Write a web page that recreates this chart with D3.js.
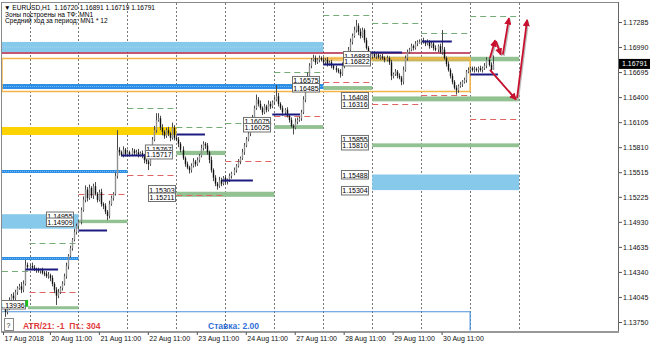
<!DOCTYPE html>
<html>
<head>
<meta charset="utf-8">
<script src="https://cdn.jsdelivr.net/npm/d3@7"></script>
<style>
  body { margin: 0; background: #fff; }
  svg { display: block; font-family: "Liberation Sans", Arial, sans-serif; }
</style>
</head>
<body>
<div id="chart"></div>
<script>
const width = 650;
const height = 345;
const plot = { left: 2, top: 3, right: 618, bottom: 331 };
const pip = 0.0001;

/* EURUSD H1 candles, 17 Aug 2018 12:00 .. 31 Aug 2018 12:00 (open = previous close) */
const firstOpen = 1.1394;
const closes = [
  1.1398, 1.1387, 1.1391, 1.1401, 1.1406, 1.1403, 1.1410, 1.1415, 1.1417, 1.1413,
  1.1420, 1.1442, 1.1440, 1.1441, 1.1439, 1.1437, 1.1436, 1.1435, 1.1436, 1.1433,
  1.1432, 1.1429, 1.1430, 1.1427, 1.1420, 1.1413, 1.1406, 1.1410, 1.1415, 1.1420,
  1.1429, 1.1441, 1.1453, 1.1462, 1.1472, 1.1481, 1.1488, 1.1493, 1.1507, 1.1519,
  1.1531, 1.1521, 1.1533, 1.1524, 1.1535, 1.1526, 1.1519, 1.1528, 1.1514, 1.1512,
  1.1505, 1.1500, 1.1514, 1.1521, 1.1526, 1.1547, 1.1578, 1.1575, 1.1572, 1.1578,
  1.1573, 1.1575, 1.1573, 1.1577, 1.1574, 1.1575, 1.1572, 1.1574, 1.1571, 1.1566,
  1.1564, 1.1561, 1.1578, 1.1590, 1.1601, 1.1613, 1.1615, 1.1604, 1.1599, 1.1594,
  1.1601, 1.1597, 1.1592, 1.1604, 1.1592, 1.1590, 1.1585, 1.1578, 1.1568, 1.1561,
  1.1557, 1.1554, 1.1559, 1.1564, 1.1561, 1.1566, 1.1571, 1.1580, 1.1585, 1.1583,
  1.1575, 1.1566, 1.1554, 1.1545, 1.1538, 1.1535, 1.1542, 1.1538, 1.1545, 1.1540,
  1.1542, 1.1547, 1.1550, 1.1554, 1.1559, 1.1564, 1.1568, 1.1575, 1.1583, 1.1590,
  1.1597, 1.1604, 1.1615, 1.1627, 1.1637, 1.1632, 1.1627, 1.1622, 1.1629, 1.1625,
  1.1632, 1.1629, 1.1634, 1.1637, 1.1641, 1.1632, 1.1627, 1.1622, 1.1625, 1.1618,
  1.1613, 1.1606, 1.1604, 1.1611, 1.1613, 1.1615, 1.1622, 1.1637, 1.1651, 1.1665,
  1.1677, 1.1684, 1.1686, 1.1681, 1.1684, 1.1686, 1.1684, 1.1681, 1.1684, 1.1679,
  1.1681, 1.1677, 1.1674, 1.1672, 1.1670, 1.1667, 1.1677, 1.1681, 1.1688, 1.1696,
  1.1705, 1.1712, 1.1719, 1.1724, 1.1717, 1.1712, 1.1719, 1.1707, 1.1698, 1.1691,
  1.1688, 1.1691, 1.1688, 1.1690, 1.1687, 1.1688, 1.1686, 1.1684, 1.1686, 1.1681,
  1.1665, 1.1667, 1.1670, 1.1665, 1.1663, 1.1658, 1.1672, 1.1686, 1.1693, 1.1696,
  1.1700, 1.1698, 1.1703, 1.1705, 1.1705, 1.1707, 1.1705, 1.1703, 1.1705, 1.1700,
  1.1703, 1.1698, 1.1696, 1.1700, 1.1693, 1.1696, 1.1686, 1.1679, 1.1672, 1.1665,
  1.1658, 1.1651, 1.1648, 1.1653, 1.1655, 1.1658, 1.1660, 1.1670, 1.1672, 1.1674,
  1.1672, 1.1673, 1.1672, 1.1674, 1.1672, 1.1674, 1.1677, 1.1684, 1.1678, 1.1672,
  1.16791
];
// shadows above / below the body, in pips
const wickUp = [
  3,2,4,3,2,4,3,2,3,5, 4,6,3,2,4,3,2,3,2,3,
  2,3,4,2,3,2,3,4,2,3, 3,4,2,3,2,4,3,2,3,4,
  5,3,4,2,3,5,2,3,4,2, 3,2,4,3,2,4,23,3,2,4,
  2,3,2,3,2,3,4,2,3,2, 3,2,4,3,5,8,6,3,4,2,
  3,4,2,6,3,2,3,2,4,2, 3,2,3,4,2,3,2,4,3,2,
  3,2,4,2,3,2,4,3,2,3, 2,3,2,3,2,3,2,4,3,3,
  4,3,4,3,6,3,4,2,3,2, 4,3,2,3,13,4,2,3,2,3,
  2,3,2,4,3,2,3,4,3,4, 3,2,4,3,2,3,2,3,2,3,
  2,3,2,3,2,3,4,3,4,3, 4,3,4,7,3,4,3,2,3,2,
  3,2,3,2,3,2,3,2,3,2, 3,2,3,2,3,2,4,3,3,2,
  3,2,3,2,3,2,3,2,3,2, 3,2,3,2,3,23,3,2,3,2,
  3,2,3,2,3,2,3,2,3,2, 2,3,2,2,3,2,3,3,2,3,10
];
const wickDn = [
  3,6,3,2,4,3,2,3,2,4, 3,2,3,2,3,2,3,2,3,2,
  3,2,3,4,3,4,11,3,2,3, 2,3,4,2,3,2,3,4,3,2,
  3,4,2,3,4,2,3,2,3,4, 3,5,3,2,3,2,3,4,2,3,
  3,2,3,2,3,2,3,2,3,4, 3,7,2,3,2,3,2,3,4,3,
  2,3,4,2,3,2,4,3,2,3, 2,4,3,2,3,2,3,2,3,4,
  3,4,3,4,3,4,2,3,2,3, 3,2,3,2,3,2,3,2,3,2,
  2,3,2,3,2,3,2,3,2,3, 2,3,2,3,2,3,2,4,3,2,
  3,2,8,2,3,2,3,2,3,2, 2,3,2,3,2,3,2,3,2,3,
  2,3,2,3,2,4,2,3,2,3, 2,3,2,3,4,3,2,3,2,3,
  2,3,2,3,2,3,2,3,2,3, 5,3,2,3,2,4,3,2,3,2,
  2,3,2,3,2,3,2,3,2,3, 2,3,2,3,2,3,2,3,2,3,
  3,2,5,3,2,3,2,3,2,3, 2,3,2,3,2,3,2,3,2,3,0
];

/* axes */
const priceTicks = [1.17285, 1.16990, 1.16695, 1.16400, 1.16105, 1.15810, 1.15515,
  1.15225, 1.14930, 1.14635, 1.14340, 1.14045, 1.13750];
const timeTickBars = [0, 23, 47, 71, 95, 119, 143, 167, 191, 215];
const timeLabels = ['17 Aug 2018', '20 Aug 11:00', '21 Aug 11:00', '22 Aug 11:00', '23 Aug 11:00',
  '24 Aug 11:00', '27 Aug 11:00', '28 Aug 11:00', '29 Aug 11:00', '30 Aug 11:00'];
const dayGridBars = [13, 37, 61, 85, 109, 133, 157, 181, 205, 229, 253];
const lastPrice = 1.16791;

/* zones: [fromBar, toBar, upper price, lower price] */
const lightBlueZones = [
  [-0.5, 157, 1.17050, 1.16931],
  [-0.5, 37, 1.15020, 1.14850],
  [181, 253, 1.15488, 1.15304]
];
const blueBands = [
  [-0.5, 157, 1.16554, 1.16496],
  [-0.5, 61, 1.15541, 1.15506],
  [-0.5, 37, 1.14516, 1.14481]
];
const goldZones = [
  [-0.5, 85, 1.16048, 1.15954]
];
const greenZones = [
  [12.3, 37, 1.13936, 1.13900],
  [37, 61, 1.14955, 1.14915],
  [85, 109, 1.15767, 1.15717],
  [85, 133, 1.15285, 1.15225],
  [133, 157, 1.16070, 1.16025],
  [157, 181, 1.16530, 1.16485],
  [181, 253, 1.16875, 1.16822],
  [181, 253, 1.16408, 1.16350],
  [181, 253, 1.15855, 1.15810]
];
const tanZones = [
  [157, 229, 1.16875, 1.16822]
];
const orangeBox = [-0.5, 229, 1.16855, 1.16466];
const blueBox = [-0.5, 229, 1.13871, 1.13650];
const maroonLine = [-0.5, 229, 1.16920];

/* daily levels: [fromBar, toBar, price] */
const upperTargets = [
  [-0.5, 13, 1.14351], [13, 37, 1.14681], [61, 85, 1.16272], [85, 109, 1.16048],
  [109, 133, 1.16095], [133, 157, 1.16696], [157, 181, 1.17367], [181, 205, 1.17273],
  [205, 229, 1.17159], [229, 253, 1.17356]
];
const lowerTargets = [
  [13, 37, 1.14104], [37, 61, 1.15258], [61, 85, 1.15482], [85, 109, 1.15247],
  [109, 133, 1.15647], [133, 157, 1.16177], [157, 181, 1.16578], [181, 205, 1.16316],
  [205, 229, 1.16425], [229, 253, 1.16146]
];
const dayOpens = [
  [11, 27, 1.14375], [37, 51, 1.14834], [58, 76, 1.15718], [85, 99, 1.15965],
  [107.4, 122.5, 1.15423], [132, 145.6, 1.16201], [157, 171, 1.16790], [180, 195.6, 1.16931],
  [205.4, 220, 1.17065], [229, 242.6, 1.16669]
];

/* price tags: [right edge bar, price, text] */
const priceTags = [
  [10.8, 1.13950, '1.13936'],
  [34.3, 1.14993, '1.14955'], [34.3, 1.14922, '1.14909'],
  [82.8, 1.15783, '1.15767'], [82.8, 1.15718, '1.15717'],
  [84.3, 1.15305, '1.15303'], [84.3, 1.15217, '1.15211'],
  [130.9, 1.16107, '1.16075'], [130.9, 1.16036, '1.16025'],
  [154.9, 1.16590, '1.16575'], [154.9, 1.16507, '1.16485'],
  [179.9, 1.16884, '1.16883'], [179.9, 1.16814, '1.16822'],
  [178.9, 1.16401, '1.16408'], [178.9, 1.16313, '1.16316'],
  [178.9, 1.15895, '1.15855'], [178.9, 1.15824, '1.15810'],
  [178.9, 1.15482, '1.15488'], [178.9, 1.15294, '1.15304']
];

/* forecast arrows: [[bar, price], [bar, price]] */
const forecastArrows = [
  [[238.7, 1.1686], [241.2, 1.1707]],
  [[241.6, 1.1706], [244.0, 1.1690]],
  [[245.0, 1.1690], [248.0, 1.1733]],
  [[238.7, 1.1672], [251.5, 1.1637]],
  [[252.0, 1.1639], [256.9, 1.1731]]
];

const titleLines = [
  '\u25BC EURUSD,H1  1.16720 1.16891 1.16719 1.16791',
  'Зоны построены на ТФ: MN1',
  'Средний ход за период: MN1 * 12'
];
const atrText = 'ATR/21: -1  Пт.: 304';
const rateText = 'Ставка: 2.00';

/* scales */
const xScale = d3.scaleLinear().domain([0, 300]).range([3, 615]);
const yScale = d3.scaleLinear().domain([1.13750, 1.17285]).range([322, 22]);

const bars = closes.map((c, i) => {
  const o = i ? closes[i - 1] : firstOpen;
  return { i, o, c, h: Math.max(o, c) + wickUp[i] * pip, l: Math.min(o, c) - wickDn[i] * pip };
});

const svg = d3.select('#chart').append('svg')
  .attr('width', width)
  .attr('height', height);

svg.append('rect').attr('width', width).attr('height', height).attr('fill', '#fff');

svg.append('clipPath').attr('id', 'plotClip')
  .append('rect')
  .attr('x', plot.left).attr('y', plot.top)
  .attr('width', plot.right - plot.left).attr('height', plot.bottom - plot.top);

const chart = svg.append('g').attr('clip-path', 'url(#plotClip)');

/* day separators */
chart.selectAll('.grid')
  .data(dayGridBars)
  .enter().append('line')
  .attr('x1', d => Math.round(xScale(d)) + 0.5)
  .attr('x2', d => Math.round(xScale(d)) + 0.5)
  .attr('y1', plot.top).attr('y2', plot.bottom)
  .attr('stroke', '#777').attr('stroke-dasharray', '2,2');

const zoneRect = (sel, data, fill) => sel.selectAll(null)
  .data(data)
  .enter().append('rect')
  .attr('x', d => xScale(d[0]))
  .attr('width', d => xScale(d[1]) - xScale(d[0]))
  .attr('y', d => yScale(d[2]))
  .attr('height', d => yScale(d[3]) - yScale(d[2]))
  .attr('fill', fill);

zoneRect(chart, lightBlueZones, '#86c9ea');
zoneRect(chart, goldZones, '#fcd200');
zoneRect(chart, greenZones, '#92c192');
zoneRect(chart, tanZones, 'rgba(236,176,60,0.65)');
zoneRect(chart, blueBands, '#2a8de6');

// dotted highlight inside the blue bands
chart.selectAll(null)
  .data(blueBands)
  .enter().append('line')
  .attr('x1', d => xScale(d[0])).attr('x2', d => xScale(d[1]))
  .attr('y1', d => yScale((d[2] + d[3]) / 2)).attr('y2', d => yScale((d[2] + d[3]) / 2))
  .attr('stroke', '#7cb9ef').attr('stroke-width', 1).attr('stroke-dasharray', '1,1');
chart.selectAll(null)
  .data(lightBlueZones.slice(0, 1))
  .enter().append('line')
  .attr('x1', d => xScale(d[0])).attr('x2', d => xScale(d[1]))
  .attr('y1', d => yScale((d[2] + d[3]) / 2)).attr('y2', d => yScale((d[2] + d[3]) / 2))
  .attr('stroke', '#a8d8f0').attr('stroke-width', 1).attr('stroke-dasharray', '1,1');

// blue outline box at the bottom
chart.append('path')
  .attr('d', `M${xScale(blueBox[0])},${yScale(blueBox[2])}H${xScale(blueBox[1])}V${yScale(blueBox[3])}`)
  .attr('fill', 'none').attr('stroke', '#4b93dc').attr('stroke-width', 1.2);

// orange box
chart.append('rect')
  .attr('x', xScale(orangeBox[0]))
  .attr('width', xScale(orangeBox[1]) - xScale(orangeBox[0]))
  .attr('y', yScale(orangeBox[2]))
  .attr('height', yScale(orangeBox[3]) - yScale(orangeBox[2]))
  .attr('fill', 'none').attr('stroke', '#f4b446').attr('stroke-width', 1.5);

chart.append('line')
  .attr('x1', xScale(maroonLine[0])).attr('x2', xScale(maroonLine[1]))
  .attr('y1', yScale(maroonLine[2])).attr('y2', yScale(maroonLine[2]))
  .attr('stroke', '#b01e40').attr('stroke-width', 1.5);

const levelLines = (data, color, width, dash) => chart.selectAll(null)
  .data(data)
  .enter().append('line')
  .attr('x1', d => xScale(d[0])).attr('x2', d => xScale(d[1]))
  .attr('y1', d => Math.round(yScale(d[2])) + 0.5).attr('y2', d => Math.round(yScale(d[2])) + 0.5)
  .attr('stroke', color).attr('stroke-width', width)
  .attr('stroke-dasharray', dash);

levelLines(upperTargets, '#76ad76', 1, '6,4');
levelLines(lowerTargets, '#e06464', 1, '6,4');

/* candles */
const candles = chart.append('g');
candles.selectAll('.wick')
  .data(bars)
  .enter().append('line')
  .attr('x1', d => Math.round(xScale(d.i)) + 0.5)
  .attr('x2', d => Math.round(xScale(d.i)) + 0.5)
  .attr('y1', d => yScale(d.h))
  .attr('y2', d => yScale(d.l))
  .attr('stroke', '#4a4a4a').attr('stroke-width', 1);

candles.selectAll('.body')
  .data(bars)
  .enter().append('rect')
  .attr('x', d => Math.round(xScale(d.i)) - 0.2)
  .attr('width', 1.4)
  .attr('y', d => yScale(Math.max(d.o, d.c)))
  .attr('height', d => Math.max(1, Math.abs(yScale(d.o) - yScale(d.c))))
  .attr('fill', d => d.c < d.o ? '#111' : '#909090');

levelLines(dayOpens, '#1b1b80', 2, null);

/* price tags */
const tags = chart.selectAll('.tag')
  .data(priceTags)
  .enter().append('g')
  .attr('transform', d => `translate(${xScale(d[0]) - 27},${yScale(d[1])})`);
tags.append('rect')
  .attr('x', 0.5).attr('y', -4.5).attr('width', 27).attr('height', 8.5)
  .attr('fill', '#fff').attr('stroke', '#707070').attr('stroke-width', 1);
tags.append('text')
  .attr('x', 14).attr('y', 2.5)
  .attr('text-anchor', 'middle').attr('font-size', 7).attr('fill', '#000')
  .text(d => d[2]);

// small green marker beside the first tag
chart.append('rect')
  .attr('x', xScale(11)).attr('width', xScale(12.3) - xScale(11))
  .attr('y', yScale(1.1401)).attr('height', yScale(1.1393) - yScale(1.1401))
  .attr('fill', '#19c419');

/* forecast arrows */
const defs = svg.append('defs');
defs.append('marker')
  .attr('id', 'head').attr('viewBox', '0 0 8 8')
  .attr('refX', 7).attr('refY', 4)
  .attr('markerWidth', 4).attr('markerHeight', 4)
  .attr('markerUnits', 'strokeWidth')
  .attr('orient', 'auto')
  .append('path').attr('d', 'M0,0L8,4L0,8Z').attr('fill', '#c8102e');

chart.selectAll('.arrowShadow')
  .data(forecastArrows)
  .enter().append('line')
  .attr('x1', d => xScale(d[0][0]) + 1.2).attr('y1', d => yScale(d[0][1]) + 1.2)
  .attr('x2', d => xScale(d[1][0]) + 1.2).attr('y2', d => yScale(d[1][1]) + 1.2)
  .attr('stroke', '#bbb').attr('stroke-width', 1.6);
chart.selectAll('.arrow')
  .data(forecastArrows)
  .enter().append('line')
  .attr('x1', d => xScale(d[0][0])).attr('y1', d => yScale(d[0][1]))
  .attr('x2', d => xScale(d[1][0])).attr('y2', d => yScale(d[1][1]))
  .attr('stroke', '#c8102e').attr('stroke-width', 1.8)
  .attr('marker-end', 'url(#head)');

/* frame */
svg.append('line').attr('x1', 1.5).attr('x2', 1.5).attr('y1', 2).attr('y2', plot.bottom)
  .attr('stroke', '#8a8a8a');
svg.append('line').attr('x1', 1).attr('x2', plot.right + 1).attr('y1', 2.5).attr('y2', 2.5)
  .attr('stroke', '#8a8a8a');
svg.append('line').attr('x1', plot.right + 0.5).attr('x2', plot.right + 0.5).attr('y1', 2).attr('y2', plot.bottom)
  .attr('stroke', '#666');
svg.append('line').attr('x1', 1).attr('x2', plot.right + 1).attr('y1', plot.bottom + 1).attr('y2', plot.bottom + 1)
  .attr('stroke', '#999').attr('stroke-width', 2);

/* price axis */
const yAxis = d3.axisRight(yScale)
  .tickValues(priceTicks)
  .tickFormat(d3.format('.5f'))
  .tickSize(3)
  .tickPadding(1);
svg.append('g')
  .attr('transform', `translate(${plot.right + 1},0)`)
  .call(yAxis)
  .call(g => g.select('.domain').remove())
  .call(g => g.selectAll('line').attr('stroke', '#555'))
  .call(g => g.selectAll('text').attr('font-size', 7).attr('fill', '#111'))
  .attr('font-family', null).attr('font-size', null);

// current price tag
const tagY = yScale(lastPrice);
svg.append('rect').attr('x', plot.right + 1).attr('y', tagY - 5).attr('width', 31).attr('height', 10)
  .attr('fill', '#000');
svg.append('text').attr('x', plot.right + 4).attr('y', tagY + 2.5)
  .attr('font-size', 7).attr('fill', '#fff').text(d3.format('.5f')(lastPrice));

/* time axis */
const xAxis = d3.axisBottom(xScale)
  .tickValues(timeTickBars)
  .tickFormat((d, i) => timeLabels[i])
  .tickSize(3)
  .tickPadding(1);
svg.append('g')
  .attr('transform', `translate(0,${plot.bottom + 1})`)
  .call(xAxis)
  .call(g => g.select('.domain').remove())
  .call(g => g.selectAll('line').attr('stroke', '#555'))
  .call(g => g.selectAll('text').attr('font-size', 7).attr('fill', '#111')
    .attr('text-anchor', 'start').attr('dx', 1))
  .attr('font-family', null).attr('font-size', null);

/* header text */
svg.selectAll('.title')
  .data(titleLines)
  .enter().append('text')
  .attr('x', (d, i) => i ? 5 : 4)
  .attr('y', (d, i) => [9.5, 16.5, 22.5][i])
  .attr('font-size', 6.6).attr('fill', '#000')
  .style('white-space', 'pre')
  .text(d => d);

/* bottom info */
svg.append('rect').attr('x', 4.5).attr('y', 318.5).attr('width', 9).attr('height', 12)
  .attr('fill', '#fff').attr('stroke', '#888');
svg.append('text').attr('x', 6.5).attr('y', 327.5).attr('font-size', 7).attr('fill', '#222').text('?');
svg.append('text').attr('x', 23).attr('y', 328.5)
  .attr('font-size', 8.5).attr('font-weight', 'bold').attr('fill', '#e23b3b')
  .style('white-space', 'pre').text(atrText);
svg.append('text').attr('x', 208).attr('y', 328.5)
  .attr('font-size', 8.5).attr('font-weight', 'bold').attr('fill', '#2f70d6')
  .text(rateText);
</script>
</body>
</html>
